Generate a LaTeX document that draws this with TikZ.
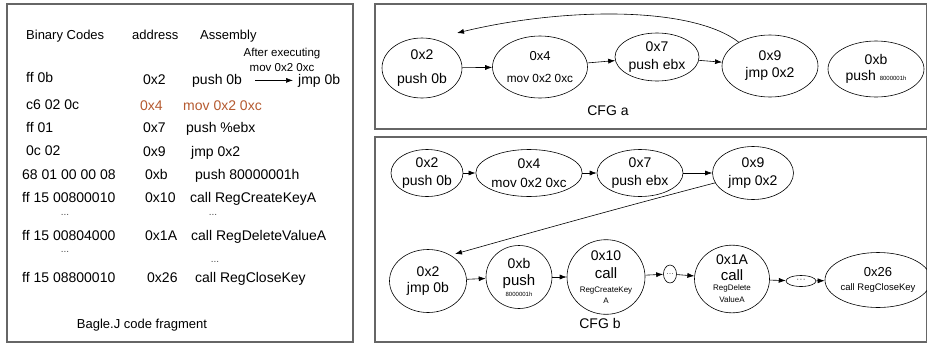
\documentclass[tikz,border=0pt]{standalone}
\usepackage{fontspec}
\setmainfont{Liberation Sans}
\usetikzlibrary{arrows.meta,shapes.geometric,calc}
\definecolor{rust}{RGB}{181,90,48}
\newcommand{\myfz}[2]{\fontsize{#1}{#2}\selectfont}
\tikzset{
  bx/.style={draw=black!60, line width=1.3pt},
  nd/.style={draw, ellipse, inner sep=0pt, align=center, line width=0.6pt, font=\myfz{14}{16}},
  arr/.style={-{Latex[length=7pt,width=5pt]}, line width=0.6pt},
  lt/.style={anchor=base west, font=\myfz{14}{16}, inner sep=0pt},
  hd/.style={anchor=base west, font=\myfz{13}{15}, inner sep=0pt},
  dots/.style={anchor=base, font=\myfz{10}{12}, inner sep=0pt, text=black!70},
  cfgcap/.style={font=\myfz{14}{16}, inner sep=0pt}
}
\begin{document}
\begin{tikzpicture}[x=1pt,y=-1pt]
\useasboundingbox (0,0) rectangle (927,346);
\fill[white] (0,0) rectangle (927,346);

% ---------- boxes ----------
\draw[bx] (7,4) rectangle (353,342);
\draw[bx] (375,4) rectangle (926.5,129);
\draw[bx] (375,137) rectangle (926.5,342);

% ---------- left code fragment ----------
\node[hd] (h1) at (26,39) {Binary Codes};
\node[hd] (h2) at (132,39) {address};
\node[hd] (h3) at (200,39) {Assembly};
\node[anchor=base, font=\myfz{11.5}{13}, inner sep=0pt] (ae1) at (282,56) {After executing};
\node[anchor=base, font=\myfz{11.5}{13}, inner sep=0pt] (ae2) at (282,71) {mov 0x2 0xc};

\node[lt] (r1a) at (26,82) {ff 0b};
\node[lt] (r1b) at (143,84) {0x2};
\node[lt] (r1c) at (192,84) {push 0b};
\node[lt] (r1d) at (298,84) {jmp 0b};
\draw[arr, shorten <=13pt, shorten >=5pt] (r1c.east) -- (r1d.west);

\node[lt] (r2a) at (26,109) {c6 02 0c};
\node[lt, text=rust] (r2b) at (140,110) {0x4};
\node[lt, text=rust] (r2c) at (183,110) {mov 0x2 0xc};

\node[lt] (r3a) at (26,132) {ff 01};
\node[lt] (r3b) at (143,132) {0x7};
\node[lt] (r3c) at (186,132) {push \%ebx};

\node[lt] (r4a) at (26,155) {0c 02};
\node[lt] (r4b) at (143,156) {0x9};
\node[lt] (r4c) at (191,156) {jmp 0x2};

\node[lt] (r5a) at (22,179) {68 01 00 00 08};
\node[lt] (r5b) at (145,179) {0xb};
\node[lt] (r5c) at (195,179) {push 80000001h};

\node[lt] (r6a) at (22,202) {ff 15 00800010};
\node[lt] (r6b) at (145,202) {0x10};
\node[lt] (r6c) at (190,202) {call RegCreateKeyA};

\node[dots] (d1) at (65,215) {...};
\node[dots] (d2) at (213,215) {...};

\node[lt] (r7a) at (22,240) {ff 15 00804000};
\node[lt] (r7b) at (145,240) {0x1A};
\node[lt] (r7c) at (191,240) {call RegDeleteValueA};

\node[dots] (d3) at (65,252) {...};
\node[dots] (d4) at (215,262) {...};

\node[lt] (r8a) at (22,282) {ff 15 08800010};
\node[lt] (r8b) at (147,282) {0x26};
\node[lt] (r8c) at (195,282) {call RegCloseKey};

\node[anchor=base, font=\myfz{13}{15}, inner sep=0pt] (cap0) at (142,328) {Bagle.J code fragment};

% ---------- CFG a ----------
\node[nd, minimum width=80pt, minimum height=60pt] (a1) at (422,68) {0x2\\[7.5pt]push 0b};
\node[nd, minimum width=95pt, minimum height=62pt] (a2) at (540,67) {{\myfz{13}{16}0x4}\\[6pt]{\myfz{11.8}{14}mov 0x2 0xc}};
\node[nd, minimum width=84pt, minimum height=48pt] (a3) at (657,57) {0x7\\[1.5pt]push ebx};
\node[nd, minimum width=96pt, minimum height=62pt] (a4) at (770,66) {0x9\\[1pt]jmp 0x2};
\node[nd, minimum width=96pt, minimum height=56pt] (a5) at (876,69) {0xb\\[0.5pt]push {\myfz{6}{7}8000001h}};
\draw[arr] (a1) -- (a2);
\draw[arr] (a2) -- (a3);
\draw[arr] (a3) -- (a4);
\draw[arr] (a4) .. controls (690,5) and (560,8) .. ($(a1)+(35,-35)$);
\node[cfgcap] (capa) at (608,111) {CFG a};

% ---------- CFG b ----------
\node[nd, minimum width=72pt, minimum height=47pt] (b1) at (427,173) {0x2\\[1.5pt]push 0b};
\node[nd, minimum width=88pt, minimum height=47pt] (b2) at (529,173) {0x4\\[3pt]{\myfz{13.4}{15}mov 0x2 0xc}};
\node[nd, minimum width=86pt, minimum height=47pt] (b3) at (640,173) {0x7\\[1.5pt]push ebx};
\node[nd, minimum width=81pt, minimum height=53pt] (b4) at (753,173) {0x9\\[1.5pt]jmp 0x2};
\draw[arr] (b1) -- (b2);
\draw[arr] (b2) -- (b3);
\draw[arr] (b3) -- (b4);

\node[nd, minimum width=77pt, minimum height=63pt] (c1) at (428,281) {0x2\\[0.5pt]jmp 0b};
\node[nd, minimum width=66pt, minimum height=63pt] (c2) at (519,277) {0xb\\[1pt]{\myfz{15}{16}push}\\[-5pt]{\myfz{6}{7}8000001h}};
\node[nd, minimum width=78pt, minimum height=60pt] (c3) at (606,277) {0x10\\[2.5pt]{\myfz{15}{16}call}\\[-2.5pt]{\myfz{8}{9}RegCreateKey}\\[-5pt]{\myfz{8}{9}A}};
\node[nd, minimum width=13pt, minimum height=18pt, text=black!60] (c4) at (670,274) {\myfz{9}{10}...};
\node[nd, minimum width=75pt, minimum height=65pt] (c5) at (732,279) {0x1A\\[-0.5pt]{\myfz{15}{16}call}\\[-5.5pt]{\myfz{8}{9}RegDelete}\\[-4pt]{\myfz{8}{9}ValueA}};
\node[nd, minimum width=30pt, minimum height=11pt, text=black!60] (c6) at (801,281) {\myfz{10}{10}···};
\node[nd, minimum width=87pt, minimum height=55pt] (c7) at (878,280) {{\myfz{13}{16}0x26}\\[-2pt]{\myfz{9.5}{11}call RegCloseKey}};
\draw[arr] (b4) .. controls (630,205) and (540,230) .. ($(c1)+(27,-27)$);
\draw[arr] (c1) -- (c2);
\draw[arr] (c2) -- (c3);
\draw[arr] (c3) -- (c4);
\draw[arr] (c4) -- (c5);
\draw[arr] (c5) -- (c6);
\draw[arr] (c6) -- (c7);
\node[cfgcap] (capb) at (600,323) {CFG b};
\end{tikzpicture}
\end{document}
